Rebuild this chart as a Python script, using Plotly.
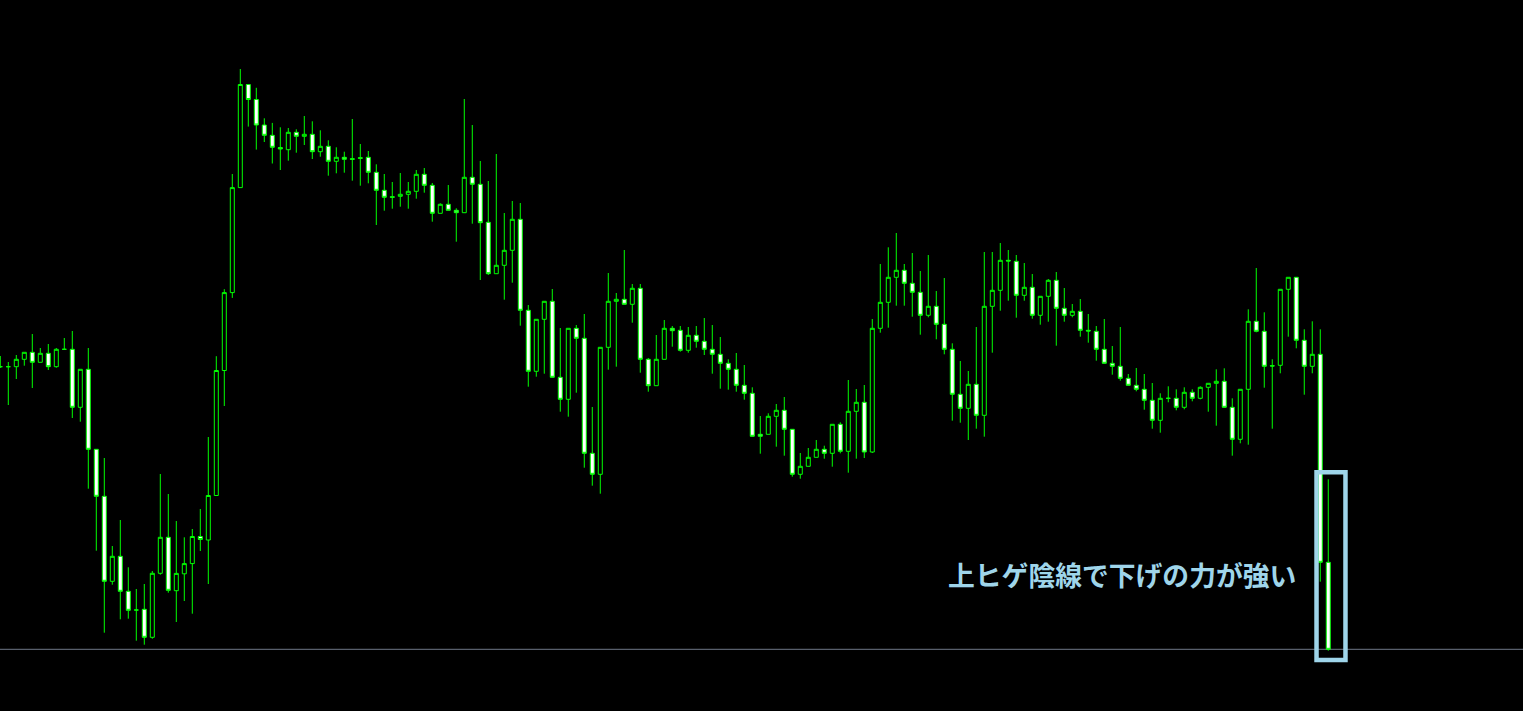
import plotly.graph_objects as go

# Candle index (time order), OHLC (arbitrary price units)
bar_index = list(range(167))

open_ = [
    344.3, 344.3, 344.3, 351.7, 358.7, 348.7, 357.7, 344.3, 361.7, 361.7,
    303.7, 341.7, 261.7, 214.7, 129.7, 154.7, 119.7, 101.0, 101.7, 73.7,
    137.7, 173.7, 120.3, 137.2, 147.4, 174.5, 171.0, 215.5, 340.5, 418.4,
    523.4, 626.5, 611.5, 586.0, 575.7, 563.5, 561.3, 578.7, 574.7, 576.7,
    559.3, 564.7, 549.7, 553.7, 552.3, 553.3, 553.7, 538.7, 520.7, 514.3,
    514.7, 516.7, 519.7, 536.7, 525.7, 497.7, 506.7, 500.7, 498.3, 533.7,
    526.7, 488.7, 437.3, 445.7, 460.7, 491.7, 400.7, 339.7, 391.7, 409.7,
    333.7, 311.7, 382.7, 372.7, 257.7, 236.7, 363.7, 409.7, 411.7, 406.7,
    422.7, 351.7, 325.3, 351.7, 382.7, 380.7, 360.7, 375.7, 369.7, 361.7,
    356.7, 347.7, 341.7, 325.7, 317.7, 276.7, 276.7, 294.7, 300.7, 281.7,
    236.7, 244.7, 253.7, 261.7, 257.7, 286.7, 259.7, 299.7, 308.7, 259.0,
    382.7, 408.7, 433.7, 440.7, 427.7, 418.7, 395.7, 404.7, 386.7, 361.7,
    316.7, 302.7, 326.7, 295.7, 404.7, 420.7, 450.7, 449.7, 415.7, 423.7,
    395.7, 414.7, 430.7, 402.7, 395.7, 399.7, 380.7, 379.7, 361.7, 347.7,
    344.7, 332.7, 325.7, 321.7, 310.7, 290.7, 312.7, 312.7, 303.7, 318.7,
    312.7, 323.7, 327.7, 329.7, 303.7, 271.7, 321.7, 389.7, 379.7, 345.3,
    345.7, 421.7, 433.7, 370.7, 344.7, 356.7, 148.7,
]

high = [
    355.0, 349.0, 356.0, 358.7, 377.0, 363.0, 367.0, 363.0, 373.0, 380.0,
    341.7, 363.0, 261.7, 253.0, 165.0, 191.0, 143.7, 122.0, 127.0, 140.0,
    237.0, 217.0, 190.0, 173.7, 182.0, 202.0, 274.0, 354.8, 421.8, 537.0,
    642.0, 626.5, 623.2, 592.7, 588.1, 583.7, 583.0, 581.7, 595.0, 589.7,
    580.7, 570.7, 563.7, 559.3, 592.0, 567.0, 560.0, 546.7, 537.0, 529.0,
    538.0, 529.0, 541.0, 543.0, 528.0, 507.7, 526.0, 502.7, 612.0, 586.0,
    550.0, 530.0, 557.0, 498.0, 510.0, 508.0, 406.0, 391.7, 409.7, 422.0,
    383.0, 382.7, 386.0, 397.0, 304.0, 363.7, 438.0, 418.0, 461.0, 427.0,
    427.0, 353.0, 376.0, 391.0, 385.0, 385.0, 384.0, 385.0, 393.0, 386.0,
    374.0, 351.7, 358.0, 346.0, 323.7, 295.0, 297.7, 307.0, 314.0, 281.7,
    258.0, 263.0, 271.0, 265.3, 286.7, 288.7, 331.0, 322.0, 326.0, 392.0,
    447.0, 463.7, 478.0, 447.0, 458.0, 440.0, 456.0, 420.0, 433.0, 367.7,
    350.0, 340.0, 384.0, 459.0, 459.0, 468.0, 461.0, 456.0, 448.0, 437.0,
    414.7, 432.0, 439.0, 423.0, 407.0, 412.0, 397.0, 385.0, 392.0, 365.0,
    384.0, 337.0, 343.0, 337.0, 328.0, 317.7, 324.7, 321.7, 323.7, 321.7,
    324.7, 327.7, 341.7, 342.7, 312.7, 321.7, 401.7, 443.0, 398.7, 351.7,
    421.7, 433.7, 433.7, 381.7, 389.7, 381.7, 231.7,
]

low = [
    343.0, 306.0, 332.0, 345.3, 323.0, 348.7, 341.0, 343.3, 361.7, 293.0,
    289.3, 222.3, 160.3, 78.3, 126.3, 91.7, 92.3, 70.3, 66.3, 72.3,
    136.3, 118.3, 89.0, 110.0, 97.3, 160.0, 127.0, 215.5, 305.0, 413.1,
    523.4, 584.4, 561.4, 569.0, 547.5, 541.0, 550.3, 558.3, 566.0, 552.0,
    554.3, 535.3, 537.7, 538.3, 530.3, 525.3, 527.7, 486.0, 500.3, 502.3,
    504.3, 502.3, 512.3, 518.3, 489.3, 497.7, 500.7, 469.3, 498.3, 487.3,
    431.0, 436.0, 437.3, 411.3, 428.3, 385.3, 324.3, 334.3, 337.3, 333.7,
    299.3, 294.3, 318.3, 243.3, 225.3, 217.3, 341.3, 344.3, 406.7, 388.3,
    338.3, 319.3, 325.3, 351.7, 364.3, 359.3, 358.3, 363.3, 356.0, 337.3,
    322.3, 321.3, 319.3, 311.3, 274.7, 257.3, 276.7, 264.3, 255.3, 234.3,
    232.3, 244.7, 253.7, 252.3, 244.3, 257.7, 238.3, 252.3, 253.0, 258.0,
    378.3, 383.3, 405.3, 405.3, 394.3, 376.3, 393.7, 371.7, 356.7, 290.3,
    288.3, 271.0, 282.3, 274.3, 358.3, 400.3, 410.3, 393.3, 410.3, 392.3,
    386.3, 389.3, 365.3, 389.3, 393.7, 374.3, 368.3, 350.3, 347.7, 336.3,
    330.3, 325.7, 319.7, 301.3, 282.3, 278.3, 308.7, 300.7, 301.7, 309.7,
    311.7, 299.3, 285.3, 303.7, 255.3, 267.7, 266.3, 378.7, 323.3, 282.3,
    337.7, 374.3, 362.7, 316.3, 337.7, 129.3, 60.3,
]

close = [
    344.3, 344.3, 351.7, 358.7, 348.7, 357.7, 344.3, 361.7, 361.7, 303.7,
    341.7, 261.7, 214.7, 129.7, 154.7, 119.7, 100.7, 101.0, 73.7, 137.7,
    173.7, 120.7, 137.6, 147.4, 174.5, 171.5, 215.5, 340.5, 418.4, 523.4,
    626.5, 611.5, 586.0, 575.7, 563.7, 562.0, 578.7, 574.7, 576.7, 559.3,
    564.7, 549.7, 553.7, 551.7, 551.7, 552.7, 538.7, 520.7, 513.7, 513.7,
    516.7, 519.7, 536.7, 525.7, 497.7, 506.7, 500.7, 498.3, 533.7, 526.7,
    488.3, 437.3, 445.7, 460.7, 491.7, 400.7, 339.7, 391.7, 409.7, 333.7,
    311.7, 382.7, 372.7, 257.7, 236.7, 363.7, 409.7, 411.7, 406.7, 422.7,
    351.7, 325.3, 351.7, 382.7, 380.3, 360.7, 375.7, 369.7, 361.7, 356.7,
    347.7, 341.7, 325.7, 317.7, 274.7, 274.7, 294.7, 300.7, 281.7, 236.7,
    244.7, 253.7, 261.7, 257.7, 286.7, 259.7, 299.7, 308.7, 259.0, 382.7,
    408.7, 433.7, 440.7, 427.7, 418.7, 395.7, 404.7, 386.7, 361.7, 316.7,
    302.7, 326.7, 295.7, 404.7, 420.7, 450.7, 450.0, 415.7, 423.7, 395.7,
    414.7, 430.7, 402.7, 395.7, 399.7, 380.7, 380.0, 361.7, 347.7, 344.7,
    332.7, 325.7, 321.7, 310.7, 290.7, 312.7, 312.7, 303.7, 318.7, 312.7,
    323.7, 327.7, 329.7, 303.7, 271.7, 321.7, 389.7, 379.7, 344.7, 345.0,
    421.7, 433.7, 370.7, 344.7, 356.7, 148.7, 61.7,
]

note_text = "上ヒゲ陰線で下げの力が強い"
note_color = "#9fd5ea"
candle_green = "#00ff00"

fig = go.Figure()
fig.add_trace(go.Candlestick(
    x=bar_index, open=open_, high=high, low=low, close=close,
    increasing=dict(line=dict(color=candle_green, width=1), fillcolor="#000000"),
    decreasing=dict(line=dict(color=candle_green, width=1), fillcolor="#ffffff"),
    whiskerwidth=0,
    hoverinfo="skip",
    showlegend=False,
))

# bid line at last close
fig.add_shape(type="line", xref="paper", x0=0, x1=1, yref="y",
              y0=close[-1], y1=close[-1],
              line=dict(color="#6f7787", width=1), layer="below")

# highlight box around the last candles
fig.add_shape(type="rect", xref="x", yref="y",
              x0=164.53, x1=168.15, y0=51, y1=238.7,
              line=dict(color=note_color, width=4.5), fillcolor="rgba(0,0,0,0)")

fig.add_annotation(x=118.2, y=137, xref="x", yref="y",
                   text="<b>" + note_text + "</b>", showarrow=False,
                   xanchor="left", yanchor="middle",
                   font=dict(family="Noto Sans CJK JP", size=26.8, color=note_color))

fig.update_layout(
    width=1523, height=711,
    margin=dict(l=0, r=0, t=0, b=0),
    paper_bgcolor="#000000", plot_bgcolor="#000000",
    boxgap=0.5, boxgroupgap=0,
    hovermode=False,
    xaxis=dict(visible=False, range=[-0.0375, 190.34], rangeslider=dict(visible=False),
               showgrid=False, zeroline=False),
    yaxis=dict(visible=False, range=[0, 711], showgrid=False, zeroline=False),
    showlegend=False,
)

fig.write_html(
    "out.html",
    config={"displayModeBar": False},
    post_script="document.body.style.margin='0';document.body.style.overflow='hidden';"
                "document.body.style.background='#000';",
)
